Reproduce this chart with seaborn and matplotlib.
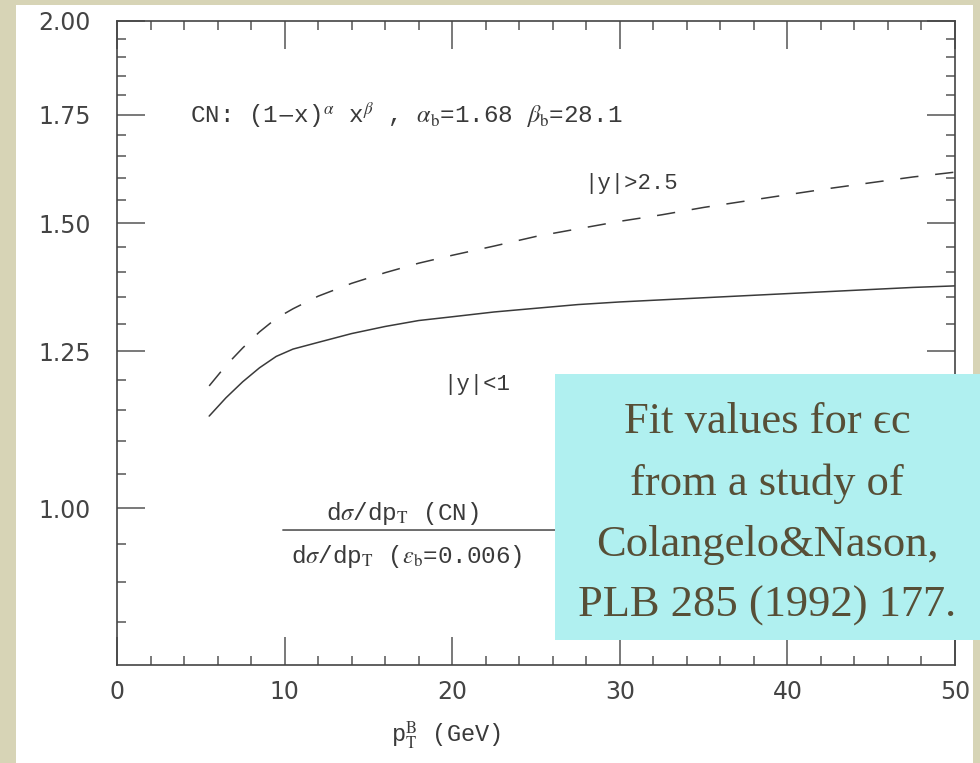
import numpy as np
import pandas as pd
import seaborn as sns
import matplotlib
matplotlib.use("Agg")
import matplotlib.pyplot as plt
from matplotlib.patches import Rectangle
from matplotlib.ticker import FixedLocator, NullFormatter, FormatStrFormatter

# p_T^B (GeV) points
pt = [5.5, 6.5, 7.5, 8.5, 9.5, 10.5, 12, 14, 16, 18, 20, 22.5, 25,
      27.5, 30, 32.5, 35, 37.5, 40, 42.5, 45, 47.5, 50]
# ratio dsigma/dpT(CN) / dsigma/dpT(eps_b=0.006)
ratio_central = [1.140, 1.170, 1.197, 1.221, 1.241, 1.254, 1.266, 1.282, 1.295,
                 1.306, 1.313, 1.322, 1.329, 1.336, 1.341, 1.345, 1.349, 1.353,
                 1.357, 1.361, 1.365, 1.369, 1.372]   # |y|<1
ratio_forward = [1.190, 1.225, 1.256, 1.285, 1.310, 1.328, 1.352, 1.377, 1.398,
                 1.417, 1.433, 1.452, 1.472, 1.488, 1.504, 1.518, 1.534, 1.548,
                 1.562, 1.576, 1.589, 1.602, 1.613]   # |y|>2.5
regions = ['|y|<1', '|y|>2.5']

x_major = [0, 10, 20, 30, 40, 50]
y_major = [1.00, 1.25, 1.50, 1.75, 2.00]

box_lines = ['Fit values for ϵc', 'from a study of', 'Colangelo&Nason,',
             'PLB 285 (1992) 177.']

df = pd.DataFrame({
    'pt': pt * 2,
    'ratio': ratio_central + ratio_forward,
    'region': [regions[0]] * len(pt) + [regions[1]] * len(pt),
})

sns.set_style('ticks')
plt.rcParams['font.family'] = ['DejaVu Sans']
plt.rcParams['mathtext.fontset'] = 'stix'
mono = ['Liberation Mono', 'DejaVu Sans Mono']
serif = ['Liberation Serif', 'DejaVu Serif']
ink = '#3a3a3a'
txt = '#3a3a3a'

fig = plt.figure(figsize=(9.8, 7.63), dpi=100, facecolor='#d7d4b6')
# white sheet behind the plot
fig.add_artist(Rectangle((16 / 980, 0), (973 - 16) / 980, (763 - 5) / 763,
                         transform=fig.transFigure, fc='white', ec='none', zorder=-2))

ax = fig.add_axes([117 / 980, 98 / 763, 838 / 980, 644 / 763])
ax.set_facecolor('white')

sns.lineplot(data=df, x='pt', y='ratio', style='region', style_order=regions,
             dashes={regions[0]: '', regions[1]: (12, 11)},
             color=ink, linewidth=1.1, estimator=None, legend=False, ax=ax)

ax.set_yscale('log')
ax.set_xlim(0, 50)
ax.set_ylim(0.8, 2.0)
ax.xaxis.set_major_locator(FixedLocator(x_major))
ax.xaxis.set_minor_locator(FixedLocator(np.arange(2, 50, 2)))
ax.yaxis.set_major_locator(FixedLocator(y_major))
ax.yaxis.set_major_formatter(FormatStrFormatter('%.2f'))
ax.yaxis.set_minor_locator(FixedLocator(np.arange(0.85, 2.0, 0.05)))
ax.yaxis.set_minor_formatter(NullFormatter())

ax.tick_params(which='both', direction='in', top=True, right=True,
               color='#555555', width=1.1)
ax.tick_params(which='major', length=20, labelsize=17, labelcolor='#444444')
ax.tick_params(axis='y', which='major', pad=19)
ax.tick_params(axis='x', which='major', pad=11)
ax.tick_params(which='minor', length=6.5)
for s in ax.spines.values():
    s.set_color('#444444')
    s.set_linewidth(1.2)

ax.set_xlabel(r'p$_{\rm T}^{\rm B}$ (GeV)', fontsize=17, family=mono, color=txt)
ax.set_ylabel('')
ax.xaxis.set_label_coords(0.393, -0.085)

ax.text(0.087, 0.854, r'CN: (1$-$x)$^{\alpha}$ x$^{\beta}$ , $\alpha_{\rm b}$=1.68 $\beta_{\rm b}$=28.1',
        transform=ax.transAxes, fontsize=17.5, family=mono, color=txt, va='center')
ax.text(0.558, 0.748, '|y|>2.5', transform=ax.transAxes, fontsize=16,
        family=mono, color=txt, va='center')
ax.text(0.389, 0.436, '|y|<1', transform=ax.transAxes, fontsize=16,
        family=mono, color=txt, va='center')

ax.text(0.341, 0.236, r'd$\sigma$/dp$_{\rm T}$ (CN)', transform=ax.transAxes,
        fontsize=17.5, family=mono, color=txt, ha='center', va='center')
ax.text(0.346, 0.168, r'd$\sigma$/dp$_{\rm T}$ ($\epsilon_{\rm b}$=0.006)', transform=ax.transAxes,
        fontsize=17.5, family=mono, color=txt, ha='center', va='center')
ax.annotate('', xy=(0.54, 0.2096), xytext=(0.198, 0.2096), xycoords='axes fraction',
            arrowprops=dict(arrowstyle='-', color='#555555', lw=1.2, shrinkA=0, shrinkB=0))

# cyan note box
fig.add_artist(Rectangle((555 / 980, (763 - 640) / 763), 1 - 555 / 980, (640 - 374) / 763,
                         transform=fig.transFigure, fc='#b0f0f0', ec='none', zorder=5))
fig.text(767 / 980, (763 - 514) / 763, '\n'.join(box_lines), ha='center', va='center',
         fontsize=32, family=serif, color='#574f37', linespacing=1.68, zorder=6)

fig.savefig('out.png', dpi=100, facecolor=fig.get_facecolor())
